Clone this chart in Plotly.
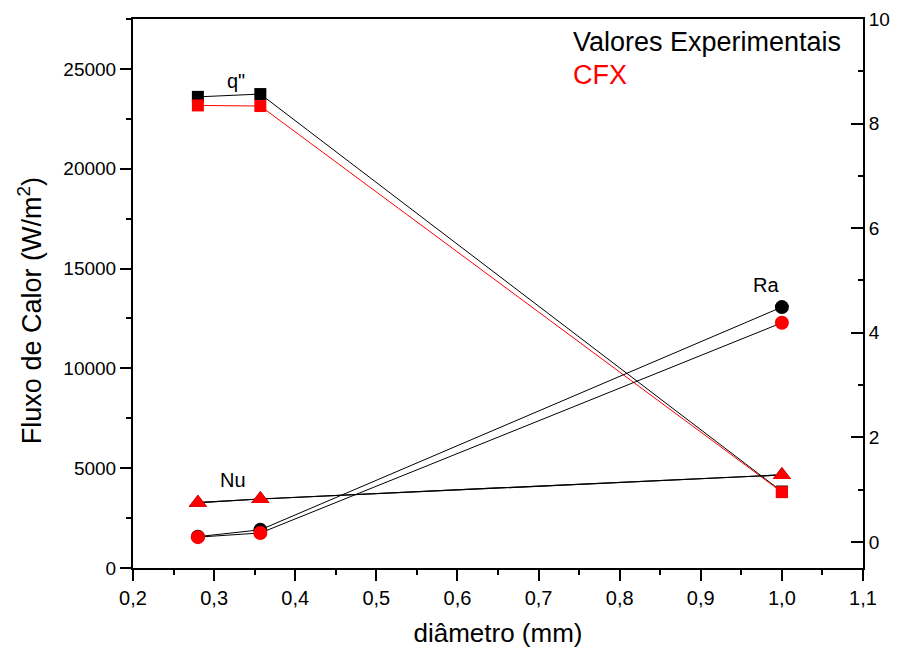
import plotly.graph_objects as go

# ---- data ----
diametro = [0.28, 0.357, 1.0]

q_exp = [23600, 23740, 3830]
q_cfx = [23170, 23140, 3800]

ra_exp = [0.10, 0.23, 4.49]
ra_cfx = [0.09, 0.17, 4.19]

nu_exp = [0.75, 0.82, 1.28]
nu_cfx = [0.75, 0.82, 1.28]

x_tickvals = [0.2, 0.3, 0.4, 0.5, 0.6, 0.7, 0.8, 0.9, 1.0, 1.1]
x_ticktext = ["0,2", "0,3", "0,4", "0,5", "0,6", "0,7", "0,8", "0,9", "1,0", "1,1"]
y_tickvals = [0, 5000, 10000, 15000, 20000, 25000]
y_ticktext = ["0", "5000", "10000", "15000", "20000", "25000"]
y2_tickvals = [0, 2, 4, 6, 8, 10]
y2_ticktext = ["0", "2", "4", "6", "8", "10"]

legend_labels = ["Valores Experimentais", "CFX"]
legend_colors = ["black", "red"]
series_labels = ["q\"", "Nu", "Ra"]
y_title = "Fluxo de Calor (W/m<sup>2</sup>)"
x_title = "diâmetro (mm)"

FONT = "Liberation Sans, Arial, sans-serif"

fig = go.Figure()

# q" (left axis)
fig.add_trace(go.Scatter(x=diametro, y=q_exp, mode="lines+markers",
                         line=dict(color="black", width=1),
                         marker=dict(symbol="square", size=12, color="black"),
                         showlegend=False))
fig.add_trace(go.Scatter(x=diametro, y=q_cfx, mode="lines+markers",
                         line=dict(color="red", width=1),
                         marker=dict(symbol="square", size=12, color="red"),
                         showlegend=False))

# Nu (right axis)
fig.add_trace(go.Scatter(x=diametro, y=nu_exp, mode="lines+markers", yaxis="y2",
                         line=dict(color="black", width=1.2),
                         marker=dict(symbol="triangle-up", size=16, color="black"),
                         showlegend=False))
fig.add_trace(go.Scatter(x=diametro, y=nu_cfx, mode="lines+markers", yaxis="y2",
                         line=dict(color="black", width=1.2),
                         marker=dict(symbol="triangle-up", size=16, color="red"),
                         showlegend=False))

# Ra (right axis)
fig.add_trace(go.Scatter(x=diametro, y=ra_exp, mode="lines+markers", yaxis="y2",
                         line=dict(color="black", width=1),
                         marker=dict(symbol="circle", size=14, color="black"),
                         showlegend=False))
fig.add_trace(go.Scatter(x=diametro, y=ra_cfx, mode="lines+markers", yaxis="y2",
                         line=dict(color="black", width=1),
                         marker=dict(symbol="circle", size=14, color="red"),
                         showlegend=False))

annotations = [
    dict(x=0.327, y=24400, xref="x", yref="y", text=series_labels[0], showarrow=False,
         font=dict(size=20, color="black", family=FONT)),
    dict(x=0.323, y=4400, xref="x", yref="y", text=series_labels[1], showarrow=False,
         font=dict(size=20, color="black", family=FONT)),
    dict(x=0.98, y=14200, xref="x", yref="y", text=series_labels[2], showarrow=False,
         font=dict(size=20, color="black", family=FONT)),
    # y-axis title (placed as rotated text to match the original's position)
    dict(x=-0.141, y=0.468, xref="paper", yref="paper", text=y_title, textangle=-90,
         xanchor="center", yanchor="middle", showarrow=False,
         font=dict(size=27, color="black", family=FONT)),
]
for i, (lab, col) in enumerate(zip(legend_labels, legend_colors)):
    annotations.append(dict(x=0.6, y=0.958 - i * 0.06, xref="paper", yref="paper",
                            xanchor="left", yanchor="middle", text=lab, showarrow=False,
                            font=dict(size=27, color=col, family=FONT)))

fig.update_layout(
    width=895, height=646,
    margin=dict(l=125, r=40, t=11, b=86),
    paper_bgcolor="white", plot_bgcolor="white",
    font=dict(family=FONT, color="black"),
    annotations=annotations,
    xaxis=dict(range=[0.2, 1.1], tickvals=x_tickvals, ticktext=x_ticktext,
               automargin=False,
               showline=True, linecolor="black", linewidth=2, mirror=True,
               ticks="outside", ticklen=11, tickwidth=2, tickcolor="black",
               minor=dict(ticks="outside", ticklen=5, tickwidth=2, dtick=0.05,
                          tickcolor="black", showgrid=False),
               showgrid=False, zeroline=False,
               tickfont=dict(size=20),
               title=dict(text=x_title, font=dict(size=26), standoff=16)),
    yaxis=dict(range=[0, 27500], tickvals=y_tickvals, ticktext=y_ticktext,
               automargin=False,
               showline=True, linecolor="black", linewidth=2,
               ticks="outside", ticklen=11, tickwidth=2, tickcolor="black",
               minor=dict(ticks="outside", ticklen=5, tickwidth=2, dtick=2500,
                          tickcolor="black", showgrid=False),
               showgrid=False, zeroline=False,
               tickfont=dict(size=19)),
    yaxis2=dict(range=[-0.5, 10], tickvals=y2_tickvals, ticktext=y2_ticktext,
                automargin=False,
                overlaying="y", side="right",
                showline=True, linecolor="black", linewidth=2,
                ticks="inside", ticklen=12, tickwidth=2, tickcolor="black",
                minor=dict(ticks="inside", ticklen=5, tickwidth=2, dtick=1,
                           tickcolor="black", showgrid=False),
                showgrid=False, zeroline=False,
                tickfont=dict(size=19)),
)

fig.write_html("out.html")
